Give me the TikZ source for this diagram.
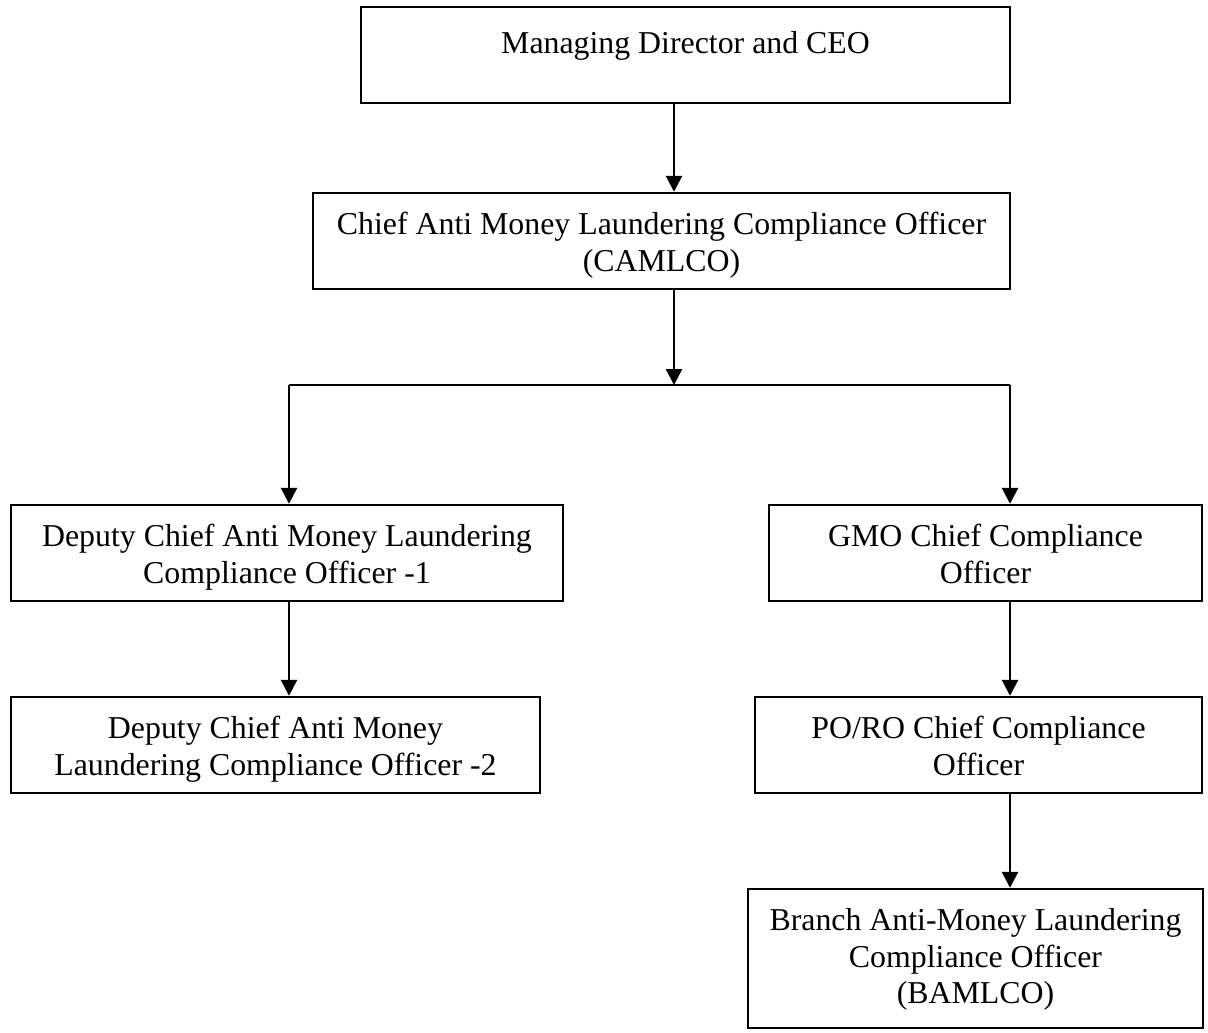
\documentclass[tikz,border=0pt]{standalone}
\usepackage{fontspec}
\setmainfont{Liberation Serif}
\usetikzlibrary{arrows.meta}
\newcommand{\pxs}{0.377}

\begin{document}
\begin{tikzpicture}[x=\pxs pt,y=-\pxs pt,
    boite/.style={draw,line width=0.9pt,inner sep=0pt,minimum height=96*\pxs pt},
    texte/.style={anchor=north,yshift=-20*\pxs pt,align=center,inner sep=0pt,
      font=\fontsize{12}{13.8}\selectfont},
    trait/.style={line width=1pt},
    fleche/.style={trait,-{Triangle[width=6pt,length=6pt]}}]
  \useasboundingbox (0,0) rectangle (1208,1033);
  % définition des boîtes
  \node[boite,minimum width=649*\pxs pt,
    label={[texte,yshift=-5*\pxs pt]north:Managing Director and CEO}] (pdg) at (685.5,55) {};
  \node[boite,minimum width=697*\pxs pt,
    label={[texte]north:Chief Anti Money Laundering Compliance Officer\\(CAMLCO)}] (camlco) at (661.5,241) {};
  \node[boite,minimum width=552*\pxs pt,
    label={[texte]north:Deputy Chief Anti Money Laundering\\Compliance Officer -1}] (adj1) at (287,553) {};
  \node[boite,minimum width=433*\pxs pt,
    label={[texte]north:GMO Chief Compliance\\Officer}] (gmo) at (985.5,553) {};
  \node[boite,minimum width=529*\pxs pt,
    label={[texte]north:Deputy Chief Anti Money\\Laundering Compliance Officer -2}] (adj2) at (275.5,745) {};
  \node[boite,minimum width=447*\pxs pt,
    label={[texte]north:PO/RO Chief Compliance\\Officer}] (poro) at (978.5,745) {};
  \node[boite,minimum width=455*\pxs pt,minimum height=139*\pxs pt,
    label={[texte]north:Branch Anti-Money Laundering\\Compliance Officer\\(BAMLCO)}] (bamlco) at (975.5,958.5) {};
  % points de jonction
  \coordinate (nd) at (674,385);
  \coordinate (ng) at (289,385);
  \coordinate (nr) at (1010,385);
  % tracer
  \draw[fleche] (pdg.south -| nd) -- (camlco.north -| nd);
  \draw[fleche] (camlco.south -| nd) -- (nd);
  \draw[trait] (ng) -- (nr);
  \draw[fleche] (ng) -- (adj1.north -| ng);
  \draw[fleche] (nr) -- (gmo.north -| nr);
  \draw[fleche] (adj1.south -| ng) -- (adj2.north -| ng);
  \draw[fleche] (gmo.south -| nr) -- (poro.north -| nr);
  \draw[fleche] (poro.south -| nr) -- (bamlco.north -| nr);
\end{tikzpicture}
\end{document}
